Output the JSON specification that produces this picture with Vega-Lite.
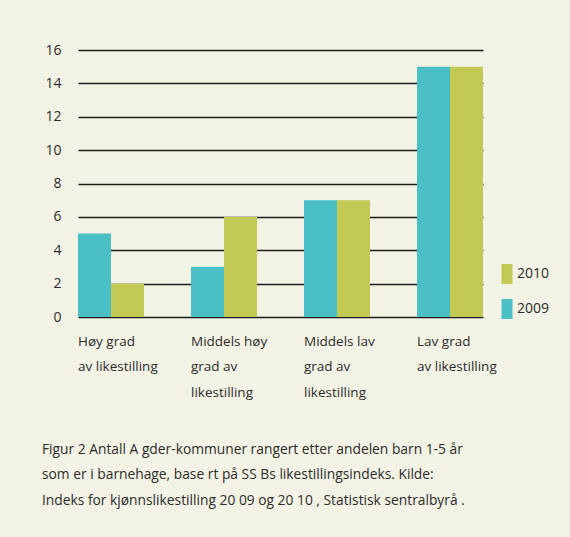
{
  "$schema": "https://vega.github.io/schema/vega-lite/v6.json",
  "width": 405,
  "height": 267,
  "autosize": {"type": "none"},
  "padding": {"left": 78, "top": 50, "right": 87, "bottom": 220},
  "background": "#f3f3e5",
  "config": {
    "font": "Open Sans",
    "view": {"stroke": null},
    "axis": {"labelFont": "Open Sans", "labelColor": "#2b2b2b"},
    "legend": {"labelFont": "Open Sans"}
  },
  "title": {
    "text": [
      "Figur   2 Antall A gder-kommuner rangert etter andelen barn 1-5 år",
      "som er i barnehage, base  rt på SS  Bs likestillingsindeks. Kilde:",
      "Indeks for kjønnslikestilling  20 09  og  20 10 , Statistisk sentralbyrå  ."
    ],
    "orient": "bottom",
    "anchor": "start",
    "frame": "group",
    "dx": -36,
    "offset": 44,
    "fontSize": 13.8,
    "fontWeight": "normal",
    "color": "#2b2b2b",
    "lineHeight": 25.5,
    "baseline": "top",
    "font": "Open Sans"
  },
  "data": {
    "values": [
      {"gruppe": "Høy grad av likestilling", "aar": "2009", "antall": 5},
      {"gruppe": "Høy grad av likestilling", "aar": "2010", "antall": 2},
      {"gruppe": "Middels høy grad av likestilling", "aar": "2009", "antall": 3},
      {"gruppe": "Middels høy grad av likestilling", "aar": "2010", "antall": 6},
      {"gruppe": "Middels lav grad av likestilling", "aar": "2009", "antall": 7},
      {"gruppe": "Middels lav grad av likestilling", "aar": "2010", "antall": 7},
      {"gruppe": "Lav grad av likestilling", "aar": "2009", "antall": 15},
      {"gruppe": "Lav grad av likestilling", "aar": "2010", "antall": 15}
    ]
  },
  "mark": {"type": "bar"},
  "encoding": {
    "x": {
      "field": "gruppe",
      "type": "nominal",
      "sort": ["Høy grad av likestilling", "Middels høy grad av likestilling", "Middels lav grad av likestilling", "Lav grad av likestilling"],
      "scale": {"paddingInner": 0.416, "paddingOuter": 0},
      "axis": {
        "title": null,
        "domain": false,
        "ticks": false,
        "labelAlign": "left",
        "labelBaseline": "top",
        "labelAngle": 0,
        "labelOffset": -33,
        "labelPadding": 17,
        "labelFontSize": 13.5,
        "labelLineHeight": 25.5,
        "labelExpr": "datum.value == 'Høy grad av likestilling' ? ['Høy grad', 'av likestilling'] : datum.value == 'Middels høy grad av likestilling' ? ['Middels høy', 'grad av', 'likestilling'] : datum.value == 'Middels lav grad av likestilling' ? ['Middels lav', 'grad av', 'likestilling'] : ['Lav grad', 'av likestilling']"
      }
    },
    "xOffset": {"field": "aar", "type": "nominal", "sort": ["2009", "2010"], "scale": {"paddingInner": 0, "paddingOuter": 0}},
    "y": {
      "field": "antall",
      "type": "quantitative",
      "scale": {"domain": [0, 16], "nice": false},
      "axis": {
        "title": null,
        "values": [0, 2, 4, 6, 8, 10, 12, 14, 16],
        "domain": false,
        "ticks": false,
        "grid": true,
        "gridColor": "#1e1b1c",
        "gridOpacity": 1,
        "gridWidth": 1.3,
        "labelPadding": 17,
        "labelFontSize": 14
      }
    },
    "color": {
      "field": "aar",
      "type": "nominal",
      "scale": {"domain": ["2010", "2009"], "range": ["#c2c954", "#4bbfc6"]},
      "legend": {
        "title": null,
        "orient": "none",
        "legendX": 419,
        "legendY": 214,
        "padding": 0,
        "symbolType": "M-0.55,-1H0.55V1H-0.55Z",
        "symbolSize": 400,
        "symbolStrokeWidth": 0,
        "symbolOpacity": 1,
        "rowPadding": 15,
        "labelFontSize": 14,
        "labelColor": "#2b2b2b",
        "labelOffset": 0
      }
    }
  }
}
